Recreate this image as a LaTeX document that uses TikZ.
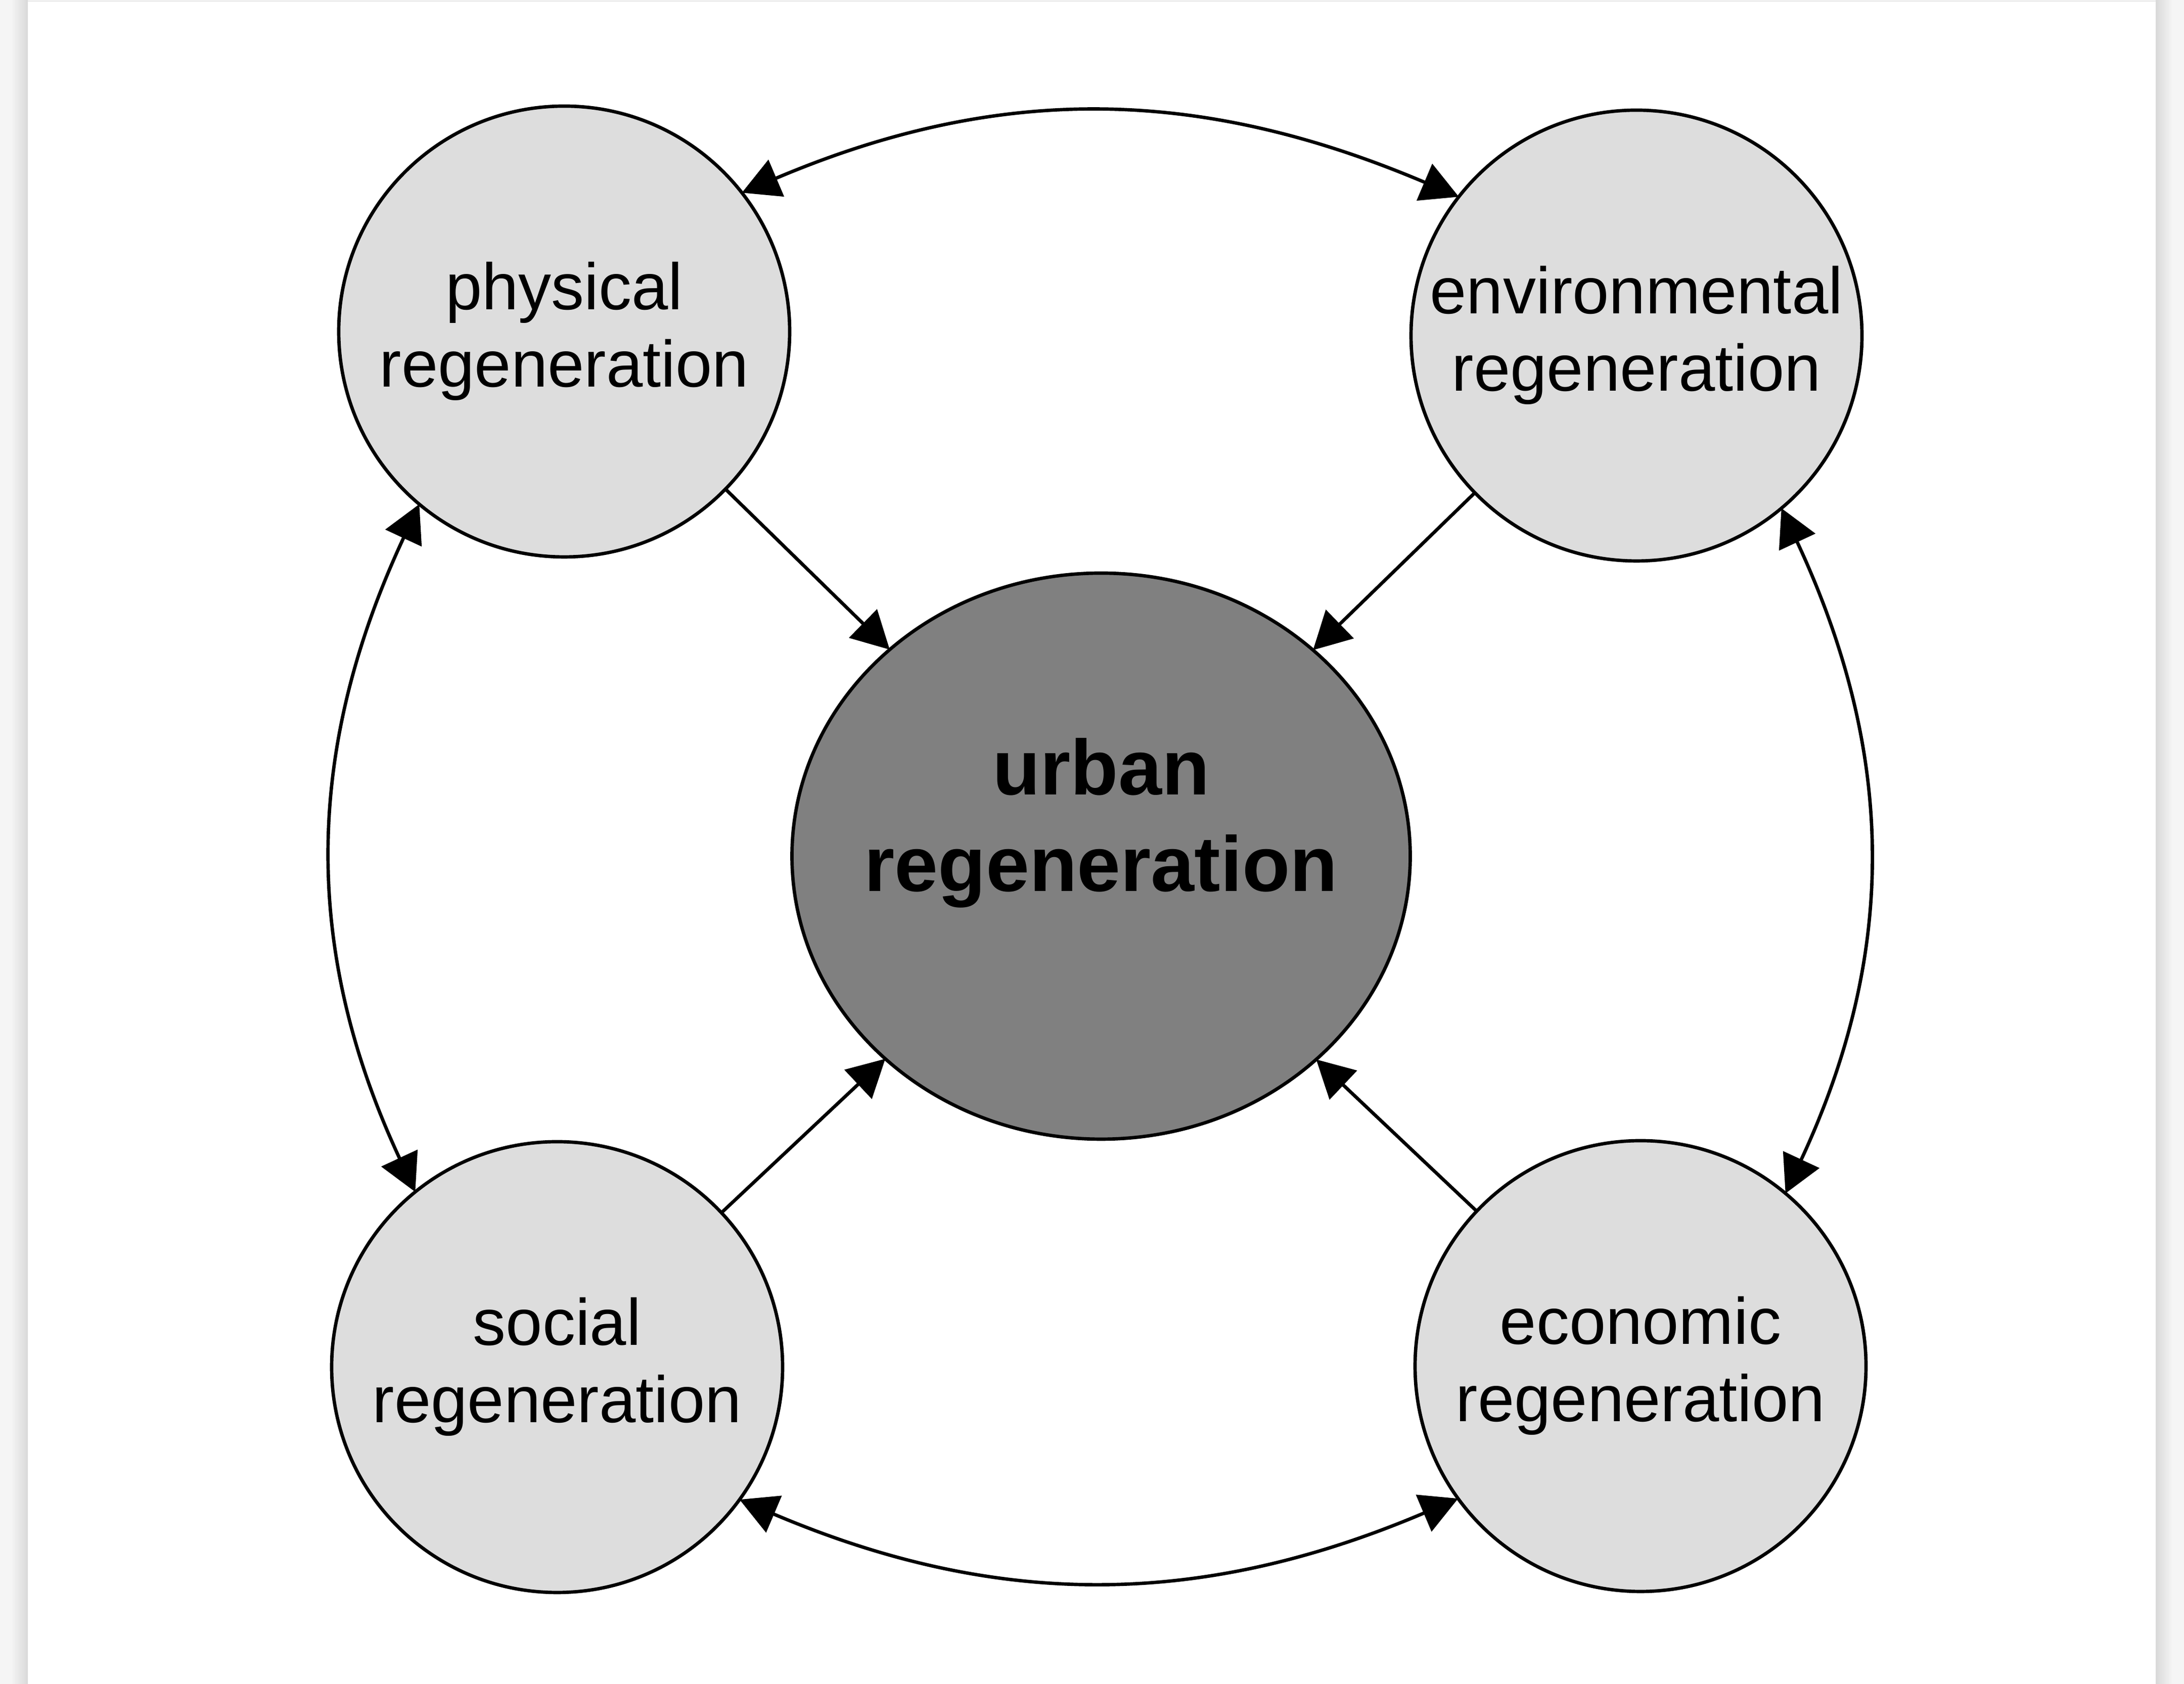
\documentclass[tikz,border=0pt]{standalone}
\usepackage{fontspec}
\setmainfont{Liberation Sans}
\usetikzlibrary{arrows.meta,shapes.geometric}

\definecolor{partfill}{RGB}{221,221,221}
\definecolor{hubfill}{RGB}{128,128,128}

\begin{document}
\begin{tikzpicture}[every node/.style={inner sep=0,outer sep=0},
    >={Triangle[length=0.74cm,width=0.78cm]},
    part/.style={circle,draw,line width=1.9pt,fill=partfill,minimum size=8.92cm,
        align=center,font=\fontsize{37}{43.5}\selectfont,
        text height=2.46cm,text depth=0.27cm},
    hub/.style={ellipse,draw,line width=1.9pt,fill=hubfill,
        minimum width=12.23cm,minimum height=11.2cm},
    hubtext/.style={align=center,font=\bfseries\fontsize{44}{54.3}\selectfont},
    link/.style={line width=1.9pt,->},
    twoway/.style={line width=1.9pt,<->}]
    \useasboundingbox (0,0) rectangle (43.2,33.32);
    \fill[black!4] (0,0) rectangle (0.55,33.32);
    \shade[left color=black!4,right color=black!15] (0.22,0) rectangle (0.55,33.32);
    \fill[black!4] (42.64,0) rectangle (43.2,33.32);
    \shade[left color=black!15,right color=black!4] (42.64,0) rectangle (42.97,33.32);
    \draw[black!10,line width=0.8pt] (0.55,33.3) -- (42.64,33.3);

    \node[part](phys) at (11.16,26.76) {physical\\regeneration};
    \node[part](env)  at (32.37,26.68) {environmental\\regeneration};
    \node[part](soc)  at (11.02,6.27)  {social\\regeneration};
    \node[part](eco)  at (32.45,6.29)  {economic\\regeneration};
    \node[hub](urban) at (21.78,16.38) {};
    \node[hubtext](urbantext) at ([yshift=0.66cm]urban.center) {urban\\regeneration};

    \draw[link] (phys) -- (urban);
    \draw[link] (env) -- (urban);
    \draw[link] (soc) -- (urban);
    \draw[link] (eco) -- (urban);

    \draw[twoway] (phys.38) to [out=23,in=157] (env.142);
    \draw[twoway] (env.-50) to [out=-65,in=65] (eco.50);
    \draw[twoway] (soc.-36) to [out=-23,in=203] (eco.216);
    \draw[twoway] (phys.230) to [out=245,in=115] (soc.129);
\end{tikzpicture}
\end{document}
